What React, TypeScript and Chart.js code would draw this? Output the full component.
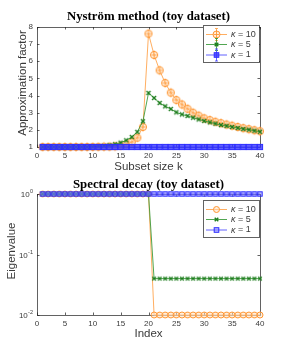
import { useEffect, useRef } from 'react';
import { Chart, registerables } from 'chart.js';
Chart.register(...registerables);

// ---------- data ----------
const subsetSizes = [1, 2, 3, 4, 5, 6, 7, 8, 9, 10, 11, 12, 13, 14, 15, 16, 17, 18, 19, 20, 21, 22, 23, 24, 25, 26, 27, 28, 29, 30, 31, 32, 33, 34, 35, 36, 37, 38, 39, 40];
const factorKappa10 = [1, 1, 1, 1, 1, 1, 1, 1, 1, 1.005, 1.01, 1.015, 1.02, 1.04, 1.08, 1.16, 1.29, 1.54, 2.17, 7.61, 6.37, 5.47, 4.73, 4.17, 3.74, 3.48, 3.23, 3.0, 2.83, 2.67, 2.57, 2.47, 2.39, 2.31, 2.24, 2.17, 2.1, 2.04, 1.98, 1.92];
const factorKappa5 = [1, 1, 1, 1, 1, 1, 1, 1, 1, 1.02, 1.04, 1.06, 1.1, 1.16, 1.25, 1.39, 1.58, 1.88, 2.5, 4.15, 3.86, 3.57, 3.37, 3.22, 3.02, 2.9, 2.81, 2.71, 2.61, 2.52, 2.44, 2.36, 2.28, 2.23, 2.17, 2.11, 2.05, 2.01, 1.95, 1.89];
const factorKappa1 = [1, 1, 1, 1, 1, 1, 1, 1, 1, 1, 1, 1, 1, 1, 1, 1, 1, 1, 1, 1, 1, 1, 1, 1, 1, 1, 1, 1, 1, 1, 1, 1, 1, 1, 1, 1, 1, 1, 1, 1];

const eigIndex = [1, 2, 3, 4, 5, 6, 7, 8, 9, 10, 11, 12, 13, 14, 15, 16, 17, 18, 19, 20, 21, 22, 23, 24, 25, 26, 27, 28, 29, 30, 31, 32, 33, 34, 35, 36, 37, 38, 39, 40];
const eigKappa10 = [1, 1, 1, 1, 1, 1, 1, 1, 1, 1, 1, 1, 1, 1, 1, 1, 1, 1, 1, 1, 0.01, 0.01, 0.01, 0.01, 0.01, 0.01, 0.01, 0.01, 0.01, 0.01, 0.01, 0.01, 0.01, 0.01, 0.01, 0.01, 0.01, 0.01, 0.01, 0.01];
const eigKappa5 = [1, 1, 1, 1, 1, 1, 1, 1, 1, 1, 1, 1, 1, 1, 1, 1, 1, 1, 1, 1, 0.04, 0.04, 0.04, 0.04, 0.04, 0.04, 0.04, 0.04, 0.04, 0.04, 0.04, 0.04, 0.04, 0.04, 0.04, 0.04, 0.04, 0.04, 0.04, 0.04];
const eigKappa1 = [1, 1, 1, 1, 1, 1, 1, 1, 1, 1, 1, 1, 1, 1, 1, 1, 1, 1, 1, 1, 1, 1, 1, 1, 1, 1, 1, 1, 1, 1, 1, 1, 1, 1, 1, 1, 1, 1, 1, 1];

const xTicks = [0, 5, 10, 15, 20, 25, 30, 35, 40];
const yTicksTop = [1, 2, 3, 4, 5, 6, 7, 8];
const yTicksBottom = [0.01, 0.1, 1];
const yTickExponents = ['-2', '-1', '0'];
const kappaLabels = ['10', '5', '1'];

const topTitle = 'Nyström method (toy dataset)';
const bottomTitle = 'Spectral decay (toy dataset)';
const topXLabel = 'Subset size k';
const topYLabel = 'Approximation factor';
const bottomXLabel = 'Index';
const bottomYLabel = 'Eigenvalue';

// ---------- styles ----------
const ORANGE = 'rgb(255,150,50)';
const ORANGE_LINE = 'rgba(255,165,80,0.9)';
const GREEN = 'rgb(30,125,30)';
const GREEN_LINE = 'rgba(50,150,50,0.85)';
const BLUE = 'rgb(45,45,255)';
const BLUE_LINE = 'rgba(70,70,255,0.85)';
const AXIS = '#3a3a3a';
const FRAME = 'rgba(38,38,38,0.72)';
const SANS = "'Liberation Sans', Arial, sans-serif";
const SERIF = "'Liberation Serif', 'Times New Roman', serif";

function marker(size: number, draw: (c: CanvasRenderingContext2D, m: number) => void) {
  const cv = document.createElement('canvas');
  cv.width = size;
  cv.height = size;
  const c = cv.getContext('2d')!;
  draw(c, size / 2);
  return cv;
}

function drawCircleMk(c: CanvasRenderingContext2D, x: number, y: number, r: number, cross: boolean) {
  c.beginPath();
  c.arc(x, y, r, 0, Math.PI * 2);
  c.fillStyle = 'rgba(255,225,195,0.55)';
  c.fill();
  c.strokeStyle = ORANGE;
  c.lineWidth = 1;
  c.stroke();
  if (cross) {
    c.beginPath();
    c.moveTo(x, y - r - 1);
    c.lineTo(x, y + r + 1);
    c.moveTo(x - r + 1, y);
    c.lineTo(x + r - 1, y);
    c.strokeStyle = 'rgba(255,150,50,0.8)';
    c.stroke();
  }
}
function drawXMk(c: CanvasRenderingContext2D, x: number, y: number, h: number) {
  c.beginPath();
  c.moveTo(x - h, y - h);
  c.lineTo(x + h, y + h);
  c.moveTo(x - h, y + h);
  c.lineTo(x + h, y - h);
  c.strokeStyle = GREEN;
  c.lineWidth = 1.4;
  c.stroke();
}
function drawSqMk(c: CanvasRenderingContext2D, x: number, y: number, h: number, filled: boolean) {
  c.fillStyle = filled ? 'rgba(55,55,255,0.8)' : 'rgba(130,130,255,0.55)';
  c.fillRect(x - h, y - h, 2 * h, 2 * h);
  c.strokeStyle = BLUE;
  c.lineWidth = 1;
  c.strokeRect(x - h, y - h, 2 * h, 2 * h);
}

type PanelCfg = {
  title: string;
  xLabel: string;
  yLabel: string;
  yLabelX: number;
  yLabelY: number;
  titleY: number;
  padTop: number;
  xAxisH: number;
  log: boolean;
  legendTop: number;
  errorBars: boolean;
};

function framePlugin(cfg: PanelCfg) {
  return {
    id: 'frame' + (cfg.log ? 'B' : 'T'),
    beforeDatasetsDraw(chart: any) {
      const { ctx, chartArea: a, scales } = chart;
      ctx.save();
      ctx.strokeStyle = FRAME;
      ctx.lineWidth = 1;
      ctx.strokeRect(Math.round(a.left) + 0.5, Math.round(a.top) + 0.5, Math.round(a.right - a.left), Math.round(a.bottom - a.top));
      const tl = 2.5;
      ctx.beginPath();
      for (const v of xTicks) {
        const px = Math.round(scales.x.getPixelForValue(v)) + 0.5;
        ctx.moveTo(px, a.bottom);
        ctx.lineTo(px, a.bottom - tl);
        ctx.moveTo(px, a.top);
        ctx.lineTo(px, a.top + tl);
      }
      const yt = cfg.log ? yTicksBottom : yTicksTop;
      for (const v of yt) {
        const py = Math.round(scales.y.getPixelForValue(v)) + 0.5;
        ctx.moveTo(a.left, py);
        ctx.lineTo(a.left + tl, py);
        ctx.moveTo(a.right, py);
        ctx.lineTo(a.right - tl, py);
      }
      ctx.stroke();
      ctx.restore();
    },
    afterDraw(chart: any) {
      const { ctx, chartArea: a, scales } = chart;
      ctx.save();
      const cx = (a.left + a.right) / 2;
      // title
      ctx.fillStyle = '#000';
      ctx.font = `bold 12.8px ${SERIF}`;
      ctx.textAlign = 'center';
      ctx.textBaseline = 'middle';
      ctx.fillText(cfg.title, cx, cfg.titleY);
      // x label
      ctx.fillStyle = AXIS;
      ctx.font = `11.5px ${SANS}`;
      ctx.fillText(cfg.xLabel, cx, a.bottom + (cfg.log ? 19 : 20));
      // y label
      ctx.save();
      ctx.translate(cfg.yLabelX, cfg.yLabelY);
      ctx.rotate(-Math.PI / 2);
      ctx.fillText(cfg.yLabel, 0, 0);
      ctx.restore();
      // log tick labels with superscripts
      if (cfg.log) {
        const right = a.left - 4;
        yTicksBottom.forEach((v, i) => {
          const py = scales.y.getPixelForValue(v);
          ctx.font = `5.5px ${SANS}`;
          ctx.textAlign = 'right';
          ctx.textBaseline = 'alphabetic';
          const ew = ctx.measureText(yTickExponents[i]).width;
          ctx.fillText(yTickExponents[i], right, py - 1);
          ctx.font = `8px ${SANS}`;
          ctx.textBaseline = 'middle';
          ctx.fillText('10', right - ew - 0.3, py + 1);
        });
      }
      // legend
      const bx = 203, by = cfg.legendTop, bw = 56, bh = 37;
      ctx.fillStyle = '#fff';
      ctx.fillRect(bx, by, bw, bh);
      ctx.strokeStyle = FRAME;
      ctx.lineWidth = 1;
      ctx.strokeRect(bx + 0.5, by + 0.5, bw, bh);
      const lineColors = [ORANGE_LINE, GREEN_LINE, BLUE_LINE];
      const rowsY = [by + 9.5, by + 19.5, by + 30];
      kappaLabels.forEach((lab, i) => {
        const ry = rowsY[i];
        ctx.beginPath();
        ctx.moveTo(bx + 3, ry);
        ctx.lineTo(bx + 24, ry);
        ctx.strokeStyle = lineColors[i];
        ctx.lineWidth = 1;
        ctx.stroke();
        const mx = bx + 13.5;
        if (cfg.errorBars) {
          ctx.beginPath();
          ctx.moveTo(mx, ry - 6);
          ctx.lineTo(mx, ry + 6);
          ctx.moveTo(mx - 1.5, ry - 6);
          ctx.lineTo(mx + 1.5, ry - 6);
          ctx.moveTo(mx - 1.5, ry + 6);
          ctx.lineTo(mx + 1.5, ry + 6);
          ctx.strokeStyle = lineColors[i];
          ctx.stroke();
        }
        if (i === 0) drawCircleMk(ctx, mx, ry, cfg.errorBars ? 3.5 : 3, cfg.errorBars);
        if (i === 1) drawXMk(ctx, mx, ry, 1.8);
        if (i === 2) drawSqMk(ctx, mx, ry, 2.3, cfg.errorBars);
        ctx.fillStyle = AXIS;
        ctx.textAlign = 'left';
        ctx.textBaseline = 'middle';
        ctx.font = `italic 9px ${SANS}`;
        const tx = bx + 28;
        ctx.fillText('κ', tx, ry);
        const kw = ctx.measureText('κ').width;
        ctx.font = `9px ${SANS}`;
        ctx.fillText(' = ' + lab, tx + kw, ry);
      });
      ctx.restore();
    },
  };
}

function makeChart(canvas: HTMLCanvasElement, cfg: PanelCfg) {
  const xs = cfg.log ? eigIndex : subsetSizes;
  const ys = cfg.log ? [eigKappa10, eigKappa5, eigKappa1] : [factorKappa10, factorKappa5, factorKappa1];
  const mkO = marker(12, (c, m) => drawCircleMk(c, m, m, cfg.log ? 3 : 3.6, !cfg.log));
  const mkG = marker(8, (c, m) => drawXMk(c, m, m, cfg.log ? 1.8 : 2));
  const mkB = marker(8, (c, m) => drawSqMk(c, m, m, cfg.log ? 2.2 : 2.6, !cfg.log));
  const toPts = (arr: number[]) => arr.map((v, i) => ({ x: xs[i], y: v }));
  const ds = (data: number[], color: string, mk: HTMLCanvasElement, order: number) => ({
    data: toPts(data),
    borderColor: color,
    borderWidth: 1,
    pointStyle: mk,
    pointRadius: 4,
    clip: false,
    order,
    tension: 0,
  });
  return new Chart(canvas, {
    type: 'line',
    data: {
      datasets: [
        ds(ys[0], ORANGE_LINE, mkO, 3),
        ds(ys[1], GREEN_LINE, mkG, 2),
        ds(ys[2], BLUE_LINE, mkB, 1),
      ],
    },
    options: {
      responsive: false,
      animation: false,
      devicePixelRatio: 1,
      events: [],
      layout: { padding: { top: cfg.padTop, right: 27, left: 0, bottom: 0 } },
      plugins: { legend: { display: false }, tooltip: { enabled: false }, title: { display: false } },
      scales: {
        x: {
          type: 'linear',
          min: 0,
          max: 40,
          afterBuildTicks: (s: any) => { s.ticks = xTicks.map((v) => ({ value: v })); },
          afterFit: (s: any) => { s.height = cfg.xAxisH; },
          grid: { display: false, drawTicks: false },
          border: { display: false },
          ticks: { font: { size: 8, family: SANS }, color: AXIS, padding: 4, maxRotation: 0, autoSkip: false },
        },
        y: cfg.log
          ? {
              type: 'logarithmic',
              min: 0.01,
              max: 1,
              afterBuildTicks: (s: any) => { s.ticks = yTicksBottom.map((v) => ({ value: v })); },
              afterFit: (s: any) => { s.width = 37; },
              grid: { display: false, drawTicks: false },
              border: { display: false },
              ticks: { display: false },
            }
          : {
              type: 'linear',
              min: 1,
              max: 8,
              afterBuildTicks: (s: any) => { s.ticks = yTicksTop.map((v) => ({ value: v })); },
              afterFit: (s: any) => { s.width = 37; },
              grid: { display: false, drawTicks: false },
              border: { display: false },
              ticks: { font: { size: 8, family: SANS }, color: AXIS, padding: 4, autoSkip: false },
            },
      },
    } as any,
    plugins: [framePlugin(cfg)],
  });
}

const topCfg: PanelCfg = {
  title: topTitle, xLabel: topXLabel, yLabel: topYLabel,
  yLabelX: 23, yLabelY: 83, titleY: 17, padTop: 27, xAxisH: 30, log: false, legendTop: 25, errorBars: true,
};
const bottomCfg: PanelCfg = {
  title: bottomTitle, xLabel: bottomXLabel, yLabel: bottomYLabel,
  yLabelX: 12, yLabelY: 74, titleY: 7.5, padTop: 17, xAxisH: 39, log: true, legendTop: 23, errorBars: false,
};

export default function App() {
  const topRef = useRef<HTMLCanvasElement>(null);
  const botRef = useRef<HTMLCanvasElement>(null);
  useEffect(() => {
    const c1 = makeChart(topRef.current!, topCfg);
    const c2 = makeChart(botRef.current!, bottomCfg);
    return () => { c1.destroy(); c2.destroy(); };
  }, []);
  return (
    <div style={{ position: 'absolute', left: 0, top: 0, width: 287, height: 354, background: '#fff' }}>
      <canvas ref={topRef} width={287} height={177} style={{ display: 'block', width: 287, height: 177 }} />
      <canvas ref={botRef} width={287} height={177} style={{ display: 'block', width: 287, height: 177 }} />
    </div>
  );
}
